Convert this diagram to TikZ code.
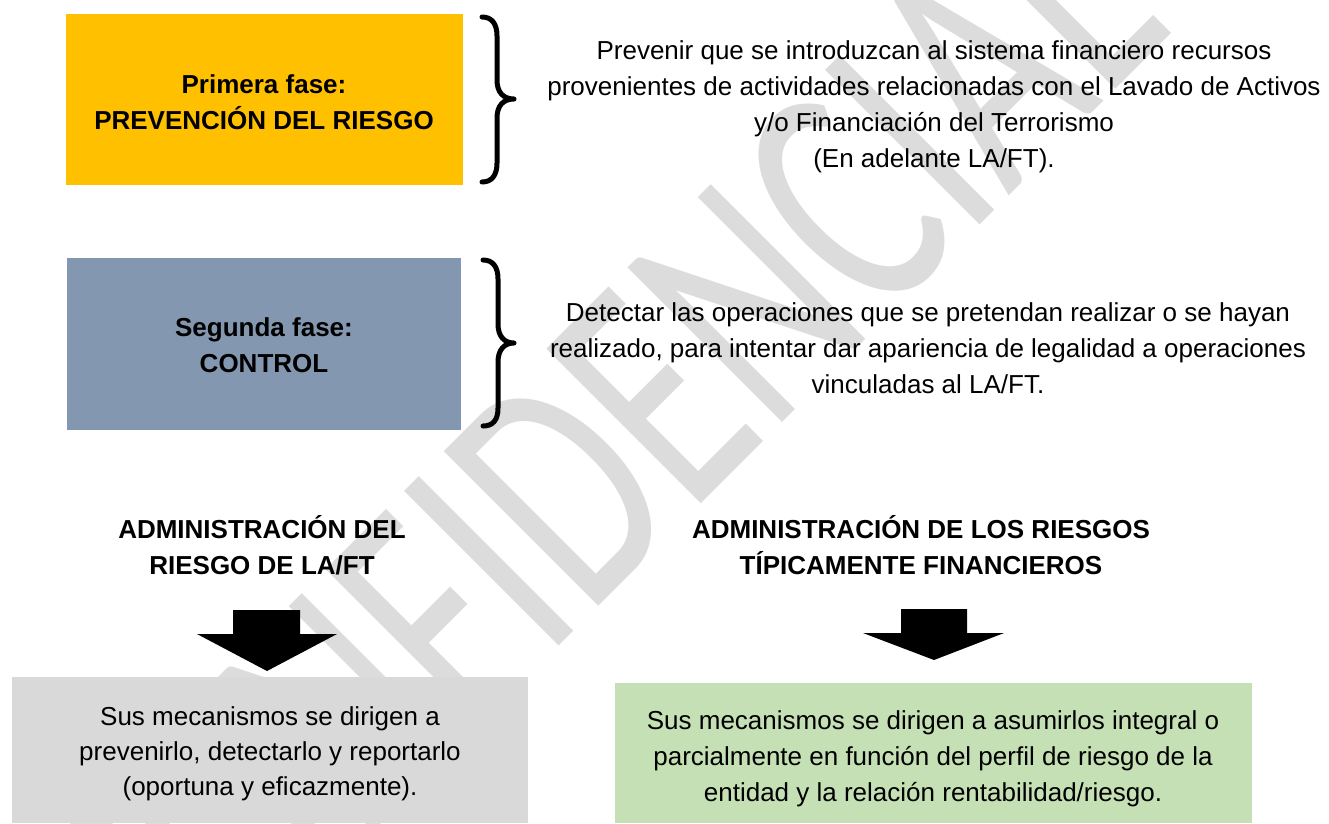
\documentclass[tikz,border=0pt]{standalone}
\usepackage{fontspec}
\setmainfont{Liberation Sans}
\newfontfamily\wmfont{Carlito}
\definecolor{phaseone}{HTML}{FFC000}
\definecolor{phasetwo}{HTML}{8497B0}
\definecolor{lightbox}{HTML}{D9D9D9}
\definecolor{greenbox}{HTML}{C5E0B4}
\definecolor{wmgray}{HTML}{DCDCDC}
\begin{document}
\begin{tikzpicture}[x=1pt,y=-1pt,
  txt/.style={align=center, font=\fontsize{26}{36}\selectfont, inner sep=0pt},
  boldtxt/.style={align=center, font=\fontsize{26}{36}\selectfont\bfseries, inner sep=0pt},
  box/.style={draw=none, inner sep=0pt, anchor=north west},
  brace/.style={line width=5pt, line cap=round, line join=round},
  blockarrow/.style={fill=black}]
\useasboundingbox (0,0) rectangle (1329,823);
\fill[white] (0,0) rectangle (1329,823);

% watermark
\node[text=wmgray, font=\wmfont\fontsize{235}{235}\selectfont, rotate=45, inner sep=0pt] (wm) at (592,458) {\scalebox{1}[1.45]{CONFIDENCIAL}};

% boxes
\node[box, fill=phaseone, minimum width=397pt, minimum height=171pt] (p1) at (66,14) {};
\node[box, fill=phasetwo, minimum width=394pt, minimum height=172pt] (p2) at (67,258) {};
\node[box, fill=lightbox, minimum width=516pt, minimum height=146pt] (m1) at (12,677) {};
\node[box, fill=greenbox, minimum width=637pt, minimum height=140pt] (m2) at (615,683) {};

% box texts
\node[boldtxt] (p1t) at (264,102) {Primera fase:\\PREVENCIÓN DEL RIESGO};
\node[boldtxt] (p2t) at (264,345) {Segunda fase:\\CONTROL};

% braces
\draw[brace] (482,17) .. controls (492,17) and (497,24) .. (497,36) -- (497,80)
  .. controls (497,92) and (503,99) .. (514,99)
  .. controls (503,99) and (497,106) .. (497,118) -- (497,163)
  .. controls (497,175) and (492,182) .. (482,182);
\draw[brace] (483,260) .. controls (493,260) and (498,267) .. (498,279) -- (498,324)
  .. controls (498,336) and (504,343) .. (514,343)
  .. controls (504,343) and (498,350) .. (498,362) -- (498,408)
  .. controls (498,420) and (493,426) .. (483,426);

% descriptions
\node[txt] (d1) at (934,107) {Prevenir que se introduzcan al sistema financiero recursos\\provenientes de actividades relacionadas con el Lavado de Activos\\y/o Financiación del Terrorismo\\(En adelante LA/FT).};
\node[txt] (d2) at (928,348) {Detectar las operaciones que se pretendan realizar o se hayan\\realizado, para intentar dar apariencia de legalidad a operaciones\\vinculadas al LA/FT.};

% headings
\node[boldtxt] (h1) at (262,545) {ADMINISTRACIÓN DEL\\RIESGO DE LA/FT};
\node[boldtxt] (h2) at (921,545) {ADMINISTRACIÓN DE LOS RIESGOS\\TÍPICAMENTE FINANCIEROS};

% block arrows
\fill[blockarrow] (233,610) -- (300,610) -- (300,634) -- (337,634) -- (267,671) -- (197,634) -- (233,634) -- cycle;
\fill[blockarrow] (901,609) -- (967,609) -- (967,633) -- (1004,633) -- (934,660) -- (863,633) -- (901,633) -- cycle;

% bottom texts
\node[txt, font=\fontsize{26}{35}\selectfont] (m1t) at (270,754) {Sus mecanismos se dirigen a\\prevenirlo, detectarlo y reportarlo\\(oportuna y eficazmente).};
\node[txt] (m2t) at (933,759) {Sus mecanismos se dirigen a asumirlos integral o\\parcialmente en función del perfil de riesgo de la\\entidad y la relación rentabilidad/riesgo.};
\end{tikzpicture}
\end{document}
